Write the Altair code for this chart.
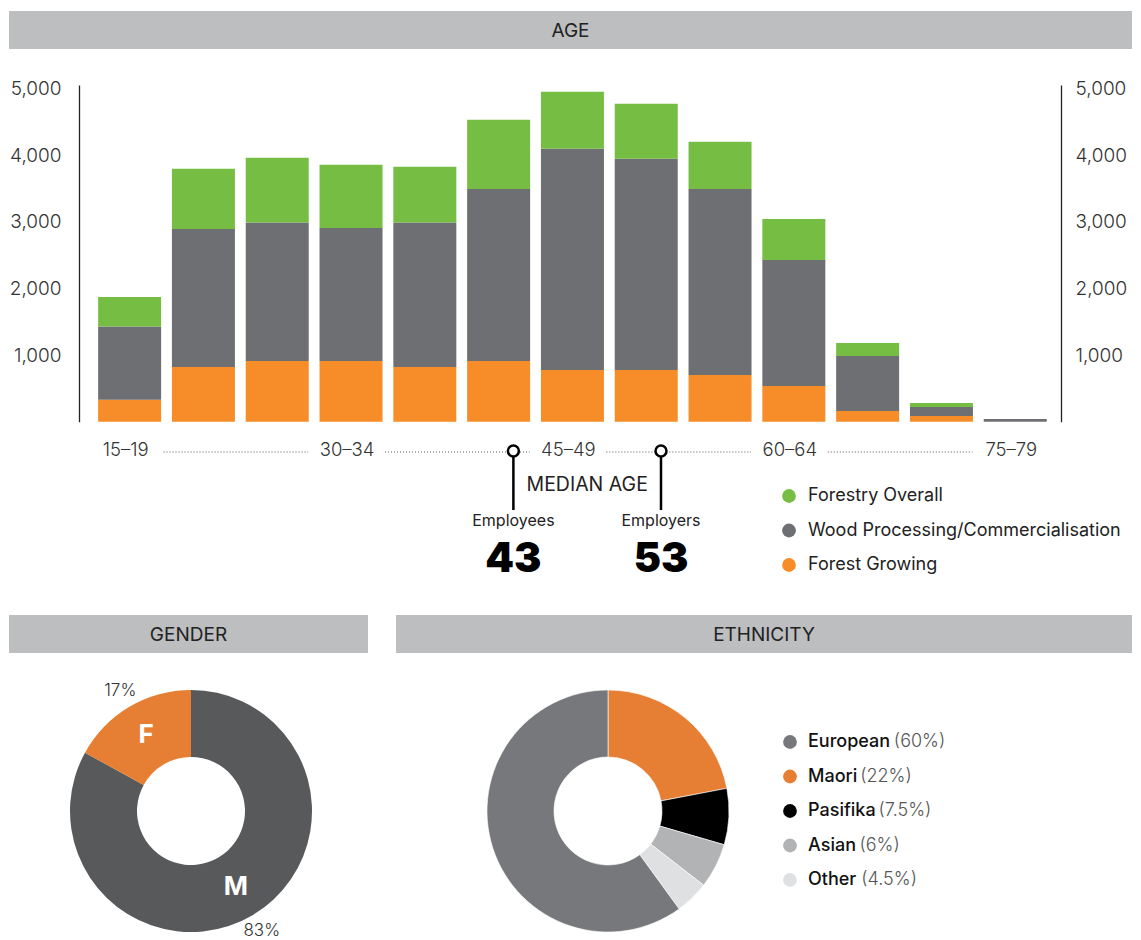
import altair as alt
import pandas as pd

FONT = "Inter"
TEXT = "#222222"

# ---------------- data ----------------
age_groups = ["15–19", "20–24", "25–29", "30–34", "35–39", "40–44", "45–49",
              "50–54", "55–59", "60–64", "65–69", "70–74", "75–79"]
age_mid = [17, 22, 27, 32, 37, 42, 47, 52, 57, 62, 67, 72, 77]
forest_growing = [330, 821, 911, 911, 821, 911, 776, 776, 701, 536, 161, 86, 0]
wood_processing = [1096, 2071, 2075, 1996, 2165, 2581, 3316, 3166, 2791, 1890, 825, 135, 41]
forestry_overall = [445, 900, 971, 945, 836, 1035, 855, 825, 705, 616, 195, 60, 0]

series_names = ["Forestry Overall", "Wood Processing/Commercialisation", "Forest Growing"]
series_colors = ["#76BE43", "#6E6F73", "#F68D29"]

axis_label_groups = ["15–19", "30–34", "45–49", "60–64", "75–79"]
axis_label_mid = [17, 32, 47, 62, 77]
y_ticks = [1000, 2000, 3000, 4000, 5000]

median_labels = ["Employees", "Employers"]
median_ages = [43, 53]

gender_cats = ["M", "F"]
gender_pct = [83, 17]
gender_colors = ["#58595B", "#E67F33"]

eth_names = ["Maori", "Pasifika", "Asian", "Other", "European"]
eth_pct = [22, 7.5, 6, 4.5, 60]
eth_pct_text = ["22%", "7.5%", "6%", "4.5%", "60%"]
eth_colors = ["#E67F33", "#000000", "#B1B3B5", "#DFE0E1", "#77787B"]
eth_legend_order = ["European", "Maori", "Pasifika", "Asian", "Other"]

# ---------------- layout ----------------
W, H = 1125, 932
X_DOMAIN = [13.57, 80.1]
X_RANGE = [71, 1053]
Y_DOMAIN = [0, 5050]
Y_RANGE = [413.7, 77]
xs = alt.Scale(domain=X_DOMAIN, range=X_RANGE, nice=False, zero=False, padding=0)
ys = alt.Scale(domain=Y_DOMAIN, range=Y_RANGE, nice=False, zero=False, padding=0)

one = pd.DataFrame({"k": [0]})

# stacked bar rows
seg_defs = [("Forest Growing", forest_growing, series_colors[2]),
            ("Wood Processing/Commercialisation", wood_processing, series_colors[1]),
            ("Forestry Overall", forestry_overall, series_colors[0])]
rows = []
for i, mid in enumerate(age_mid):
    base = 0
    for name, vals, col in seg_defs:
        v = vals[i]
        if v > 0:
            rows.append(dict(group=age_groups[i], age=mid, series=name,
                             y0=base, y1=base + v, color=col))
            base += v
bars_df = pd.DataFrame(rows)


def header(x0, x1, y0, y1, label):
    r = alt.Chart(one).mark_rect(color="#BCBEC0").encode(
        x=alt.value(x0), x2=alt.value(x1), y=alt.value(y0), y2=alt.value(y1))
    t = alt.Chart(one).mark_text(text=label, font=FONT, fontSize=19, color=TEXT,
                                 align="center", baseline="middle").encode(
        x=alt.value((x0 + x1) / 2), y=alt.value((y0 + y1) / 2 + 1))
    return [r, t]


layers = []
layers += header(1, 1124, 3, 41, "AGE")
layers += header(1, 360, 607, 645, "GENDER")
layers += header(388, 1124, 607, 645, "ETHNICITY")

axis_common = dict(values=y_ticks, format=",.0f", ticks=False, tickSize=0, grid=False,
                   domain=True, domainColor="#222222", domainWidth=1.3,
                   labelFont=FONT, labelFontSize=19, labelFontWeight=300,
                   labelColor="#333333", title=None)

bars = alt.Chart(bars_df).mark_bar(size=63).encode(
    x=alt.X("age:Q", scale=xs, axis=None),
    y=alt.Y("y0:Q", scale=ys,
            axis=alt.Axis(orient="left", offset=-71, labelPadding=18, **axis_common)),
    y2="y1:Q",
    color=alt.Color("color:N", scale=None),
)
right_axis = alt.Chart(bars_df).mark_bar(size=63, opacity=0).encode(
    x=alt.X("age:Q", scale=xs, axis=None),
    y=alt.Y("y1:Q", scale=ys,
            axis=alt.Axis(orient="right", offset=-72, labelPadding=14, **axis_common)),
)
layers += [bars, right_axis]

# dotted guide between x labels
dots = pd.DataFrame({"a": axis_label_mid[:-1], "b": axis_label_mid[1:]})
dots["s"] = dots["a"] + 2.3
dots["e"] = dots["b"] - 2.9
layers.append(alt.Chart(dots).mark_rule(color="#555555", strokeWidth=1,
                                        strokeDash=[1, 2]).encode(
    x=alt.X("s:Q", scale=xs, axis=None), x2="e:Q", y=alt.value(444)))

xlab = pd.DataFrame({"label": axis_label_groups, "age": axis_label_mid})
layers.append(alt.Chart(xlab).mark_text(font=FONT, fontSize=18.5, fontWeight=300,
                                        color="#333333", dx=-4, baseline="middle").encode(
    x=alt.X("age:Q", scale=xs, axis=None), y=alt.value(442), text="label:N"))

# median markers
med = pd.DataFrame({"label": median_labels, "age": median_ages,
                    "val": [str(a) for a in median_ages]})
layers.append(alt.Chart(med).mark_rule(color="#000000", strokeWidth=2.5).encode(
    x=alt.X("age:Q", scale=xs, axis=None), y=alt.value(449), y2=alt.value(502)))
layers.append(alt.Chart(med).mark_point(shape="circle", size=120, filled=False,
                                        fill="white", fillOpacity=1, opacity=1,
                                        stroke="#000000", strokeWidth=2.5).encode(
    x=alt.X("age:Q", scale=xs, axis=None), y=alt.value(443)))
layers.append(alt.Chart(med).mark_text(font=FONT, fontSize=16, color=TEXT).encode(
    x=alt.X("age:Q", scale=xs, axis=None), y=alt.value(513), text="label:N"))
layers.append(alt.Chart(med).mark_text(font=FONT, fontSize=41, fontWeight=900,
                                       color="#000000").encode(
    x=alt.X("age:Q", scale=xs, axis=None), y=alt.value(552), text="val:N"))
med_mid = pd.DataFrame({"age": [sum(median_ages) / len(median_ages)], "t": ["MEDIAN AGE"]})
layers.append(alt.Chart(med_mid).mark_text(font=FONT, fontSize=19.5, color=TEXT).encode(
    x=alt.X("age:Q", scale=xs, axis=None), y=alt.value(477), text="t:N"))

# bar legend
leg = pd.DataFrame({"name": series_names, "color": series_colors})
leg["ly"] = 488 + leg.index * 34.5
layers.append(alt.Chart(leg).mark_point(shape="circle", filled=True, size=190,
                                        opacity=1).encode(
    x=alt.value(781), y=alt.Y("ly:Q", scale=None, axis=None),
    color=alt.Color("color:N", scale=None)))
layers.append(alt.Chart(leg).mark_text(font=FONT, fontSize=18, color=TEXT,
                                       align="left", baseline="middle").encode(
    x=alt.value(800), y=alt.Y("ly:Q", scale=None, axis=None), text="name:N"))

# gender donut
gdf = pd.DataFrame({"cat": gender_cats, "pct": gender_pct, "color": gender_colors,
                    "idx": range(len(gender_cats))})
gdf["plabel"] = gdf["pct"].astype(int).astype(str) + "%"
GX, GY = 183, 803
layers.append(alt.Chart(gdf).mark_arc(innerRadius=54, outerRadius=121).encode(
    theta=alt.Theta("pct:Q", stack=True), order=alt.Order("idx:Q"),
    color=alt.Color("color:N", scale=None), x=alt.value(GX), y=alt.value(GY)))
layers.append(alt.Chart(gdf).mark_text(radius=88, font=FONT, fontSize=26,
                                       fontWeight="bold", color="white").encode(
    theta=alt.Theta("pct:Q", stack=True), order=alt.Order("idx:Q"),
    text="cat:N", x=alt.value(GX), y=alt.value(GY)))
layers.append(alt.Chart(gdf).mark_text(radius=139, font=FONT, fontSize=17,
                                       fontWeight=300, color="#333333").encode(
    theta=alt.Theta("pct:Q", stack=True), order=alt.Order("idx:Q"),
    text="plabel:N", x=alt.value(GX), y=alt.value(GY)))

# ethnicity donut
edf = pd.DataFrame({"name": eth_names, "pct": eth_pct, "color": eth_colors,
                    "ptext": eth_pct_text, "idx": range(len(eth_names))})
EX, EY = 600, 803
layers.append(alt.Chart(edf).mark_arc(innerRadius=54, outerRadius=121,
                                      stroke="white", strokeWidth=0.6).encode(
    theta=alt.Theta("pct:Q", stack=True), order=alt.Order("idx:Q"),
    color=alt.Color("color:N", scale=None), x=alt.value(EX), y=alt.value(EY)))

# ethnicity legend
LEG_FS = 18
EM = {"E": .60, "u": .58, "r": .40, "o": .60, "p": .60, "e": .58, "a": .56, "n": .58,
      "M": .82, "i": .25, "P": .60, "s": .52, "f": .36, "k": .55, "A": .68, "O": .76,
      "t": .37, "h": .58}


def est_width(s, size=LEG_FS):
    return sum(EM.get(c, .58) for c in s) * size + 0.27 * size


eleg = edf.set_index("name").loc[eth_legend_order].reset_index()
eleg["ly"] = 734 + eleg.index * 34.5
eleg["px"] = 800 + eleg["name"].apply(est_width)
eleg["pt"] = "(" + eleg["ptext"] + ")"
layers.append(alt.Chart(eleg).mark_point(shape="circle", filled=True, size=190,
                                         opacity=1).encode(
    x=alt.value(782), y=alt.Y("ly:Q", scale=None, axis=None),
    color=alt.Color("color:N", scale=None)))
layers.append(alt.Chart(eleg).mark_text(font=FONT, fontSize=LEG_FS, fontWeight=500,
                                        color="#111111", align="left",
                                        baseline="middle").encode(
    x=alt.value(800), y=alt.Y("ly:Q", scale=None, axis=None), text="name:N"))
layers.append(alt.Chart(eleg).mark_text(font=FONT, fontSize=LEG_FS, fontWeight=300,
                                        color="#555555", align="left",
                                        baseline="middle").encode(
    x=alt.X("px:Q", scale=None, axis=None), y=alt.Y("ly:Q", scale=None, axis=None),
    text="pt:N"))

chart = alt.layer(*layers).resolve_scale(
    x="independent", y="independent", theta="independent"
).properties(
    width=W, height=H, padding=0,
    autosize=alt.AutoSizeParams(type="none"),
).configure_view(stroke=None)

chart.save("out.html", embed_options={"renderer": "svg", "actions": False})
